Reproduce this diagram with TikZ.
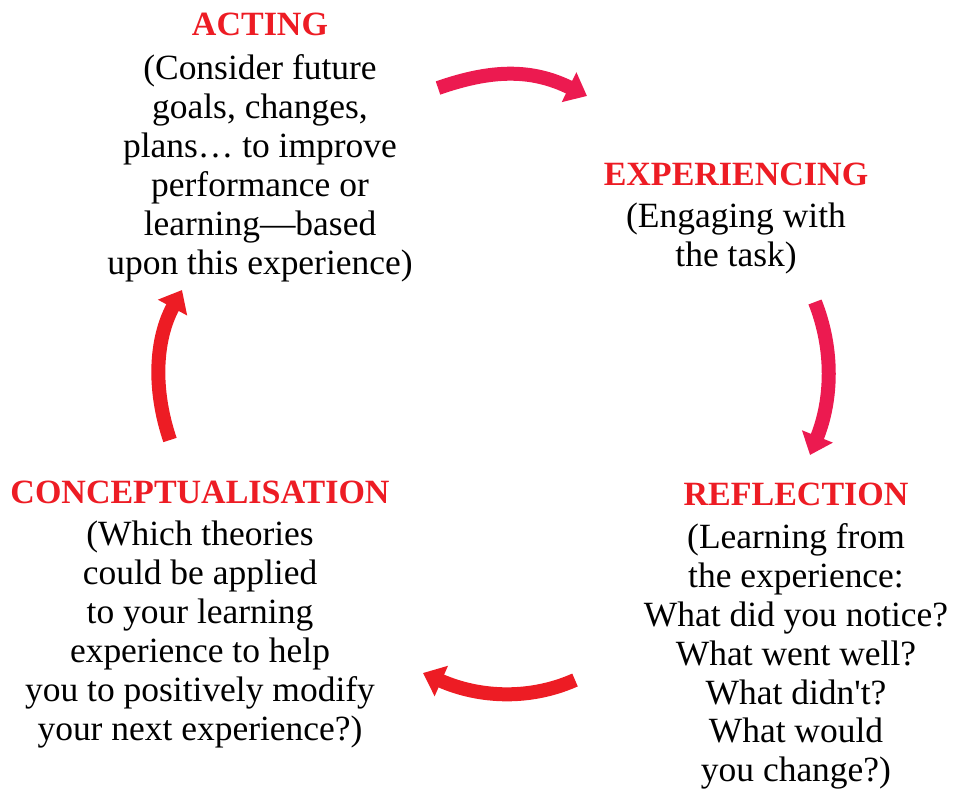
\documentclass[tikz,border=0pt]{standalone}
\usepackage{fontspec}
\setmainfont{Liberation Serif}
\usetikzlibrary{arrows.meta, positioning}
\definecolor{cycred}{HTML}{ED1C24}
\definecolor{cycpink}{HTML}{EC1A50}
\tikzset{
    stagetitle/.style={text=cycred, font=\fontsize{25.5}{29}\selectfont\bfseries, inner sep=0pt},
    stagetext/.style={align=center, font=\fontsize{26.6}{29.2}\selectfont, inner sep=0pt},
    cycarrow/.style={line width=10.5pt, -{Triangle[length=15pt, width=24pt]}},
}

\begin{document}
\begin{tikzpicture}[x=0.75pt, y=-0.75pt]
    \useasboundingbox (0,0) rectangle (959,791);

    % stage headings
    \node[stagetitle] (acting) at (260,24) {ACTING};
    \node[stagetitle] (exper) at (736,174) {EXPERIENCING};
    \node[stagetitle] (refl) at (796,494) {REFLECTION};
    \node[stagetitle] (concept) at (200,492) {CONCEPTUALISATION};

    % stage descriptions
    \node[stagetext, below=14pt of acting] (actingtxt) {(Consider future\\goals, changes,\\plans\dots\ to improve\\performance or\\learning---based\\upon this experience)};
    \node[stagetext, below=13pt of exper] (expertxt) {(Engaging with\\the task)};
    \node[stagetext, below=13pt of refl] (refltxt) {(Learning from\\the experience:\\What did you notice?\\What went well?\\What didn\textquotesingle t?\\What would\\you change?)};
    \node[stagetext, below=13pt of concept] (concepttxt) {(Which theories\\could be applied\\to your learning\\experience to help\\you to positively modify\\your next experience?)};

    % the cycle
    \draw[cycarrow, cycpink] (438,88) .. controls (490,70) and (530,68) .. (587,96);
    \draw[cycarrow, cycpink] (815,302) .. controls (834,350) and (832,400) .. (810,455);
    \draw[cycarrow, cycred] (575,680) .. controls (530,700) and (480,698) .. (423,673);
    \draw[cycarrow, cycred] (170,440) .. controls (153,390) and (155,340) .. (182,290);
\end{tikzpicture}
\end{document}
